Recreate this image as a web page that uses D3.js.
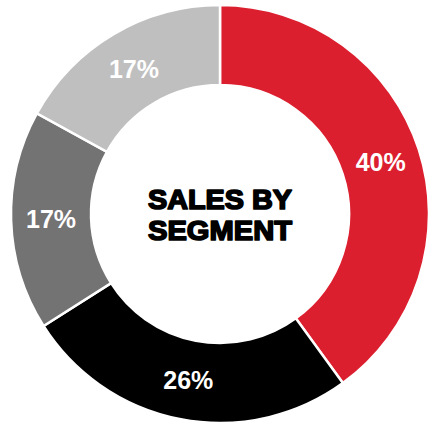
<!DOCTYPE html>
<html>
<head>
<meta charset="utf-8">
<script src="https://cdn.jsdelivr.net/npm/d3@7"></script>
<style>
  html, body { margin: 0; padding: 0; background: #fff; }
  svg { display: block; }
</style>
</head>
<body>
<svg id="chart" width="429" height="425"></svg>
<script>
const segments = ['Segment A', 'Segment B', 'Segment C', 'Segment D'];
const shares = [40, 26, 17, 17];
const colors = ['#dc1f2f', '#000000', '#737373', '#bfbfbf'];
const titleLines = ['SALES BY', 'SEGMENT'];

const width = 429, height = 425;
const cx = 220, cy = 214;
const outerR = 209, innerR = 129;

const svg = d3.select('#chart');
const g = svg.append('g').attr('transform', `translate(${cx},${cy})`);

const pie = d3.pie().value(d => d.value).sort(null);
const arc = d3.arc().innerRadius(innerR).outerRadius(outerR);

const data = segments.map((s, i) => ({ name: s, value: shares[i], color: colors[i] }));
const arcs = pie(data);

g.selectAll('path.slice')
  .data(arcs)
  .join('path')
    .attr('class', 'slice')
    .attr('d', arc)
    .attr('fill', d => d.data.color)
    .attr('stroke', '#ffffff')
    .attr('stroke-width', 2.5)
    .attr('stroke-linejoin', 'miter');

// percentage labels at ring centroid
g.selectAll('text.pct')
  .data(arcs)
  .join('text')
    .attr('class', 'pct')
    .attr('x', d => arc.centroid(d)[0])
    .attr('y', d => arc.centroid(d)[1])
    .attr('dy', '0.36em')
    .attr('text-anchor', 'middle')
    .style('font-family', 'Arial, "Liberation Sans", sans-serif')
    .style('font-weight', 'bold')
    .style('font-size', '25px')
    .attr('fill', '#ffffff')
    .text(d => `${d.data.value}%`);

// center title
const title = g.append('text')
  .attr('text-anchor', 'middle')
  .style('font-family', '"Arial Black", "Liberation Sans", Arial, sans-serif')
  .style('font-weight', '900')
  .style('font-size', '28px')
  .attr('fill', '#000')
  .attr('stroke', '#000')
  .attr('stroke-width', 1.7)
  .attr('stroke-linejoin', 'round');

title.selectAll('tspan')
  .data(titleLines)
  .join('tspan')
    .attr('x', 0)
    .attr('y', (d, i) => -5 + i * 31)
    .attr('textLength', 144)
    .attr('lengthAdjust', 'spacingAndGlyphs')
    .text(d => d);
</script>
</body>
</html>
